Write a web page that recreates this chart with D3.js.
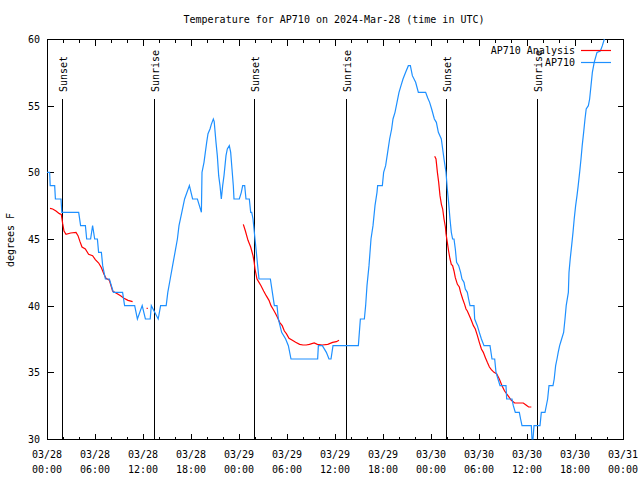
<!DOCTYPE html>
<html><head><meta charset="utf-8">
<script src="https://cdn.jsdelivr.net/npm/d3@7"></script>
<style>
body{margin:0;background:#fff;}
text{font-family:"DejaVu Sans Mono","Liberation Mono",monospace;font-size:10px;fill:#000;}
</style></head>
<body><svg id="c" width="640" height="480"></svg>
<script>
// ---- data (hours after 2024-03-28 00:00 UTC) ----
const obsHours = [0,0.33,0.4,0.96,1.05,1.75,1.85,3.96,4.2,4.8,4.96,5.45,5.7,5.96,6.3,6.45,6.8,6.96,7.3,7.8,8.3,9.45,9.7,10.96,11.3,11.9,12.3,12.9,13.04,13.9,14.2,14.9,15.1,15.4,15.7,16.0,16.3,16.5,16.85,17.2,17.8,18.2,18.8,19.3,19.375,19.625,19.79,19.96,20.125,20.375,20.54,20.79,20.9,21.125,21.29,21.46,21.625,21.79,21.96,22.125,22.375,22.54,22.79,22.96,23.125,23.29,23.375,24.04,24.29,24.46,24.71,24.875,25.29,25.46,25.59,25.75,26,26.17,26.33,26.5,27.92,28.17,28.42,28.75,28.92,29.33,29.83,30.17,30.5,33.83,33.92,34.42,34.92,35.25,35.5,35.75,38.92,39.17,39.67,39.83,40,40.25,40.5,40.75,41,41.25,41.33,41.92,42.08,42.33,42.58,42.83,43.08,43.25,43.5,43.75,44,44.25,44.5,44.83,45.17,45.42,45.67,46.08,46.42,47.33,47.58,47.83,48.08,48.42,48.67,48.92,49.29,49.625,49.875,50.04,50.2,50.375,50.54,50.7,50.875,51.04,51.2,51.46,51.7,51.875,52.125,52.29,52.54,52.7,52.875,53.375,53.46,53.79,54.04,54.3,54.625,55.375,55.625,55.96,56.125,56.375,56.625,57.375,57.46,58.125,58.29,58.54,59.04,59.2,59.375,60.54,60.625,60.75,60.875,61.625,61.79,62.25,62.58,62.75,63.25,63.4,63.58,63.75,63.9,64.08,64.33,64.58,64.75,64.9,65.17,65.25,65.4,65.58,65.75,65.9,66.08,66.25,66.4,66.58,66.75,66.9,67.08,67.25,67.4,67.67,67.83,68,68.17,68.4,68.75,69.17,69.42,69.67];
const obsTemps = [50,50,49,49,48,48,47,47,46,46,45,45,46,45,45,44,44,43,42,42,41,41,40,40,39,40,39,39,40,39,40,40,41,42,43,44,45,46,47,48,49,48,48,47,50,50.75,51.5,52.25,52.9,53.25,53.6,54,53.8,52.25,51.25,49.75,49,48,49,49.75,51.25,51.75,52,51.5,50.25,49,48,48,48.5,49,49,48,48,47,47,46.5,45,44,43,42,42,41,40,40,39,38,37.5,37,36,36,37,37,36.5,36,36,37,37,39,39,40,41.5,43,45,46,47.5,48.5,49,49,50,50.5,51.5,52.5,53.25,54,54.5,55.25,56,56.5,57,57.5,58,58,57.25,56.75,56,56,55.6,55.25,54.75,54,53.75,53,52.5,51,50,48.75,47.75,46.5,45.5,45,45,44.25,43.25,43,42.5,42,41.75,41.25,41,40.5,40,40,39,38.5,38,37.5,37,37,36,36,35,34.5,34,34,33,33,32.5,32,32,31.5,31,31,30,30,31,31,32,32,33,34,34,34.5,35.5,36,36.5,37,37.5,38,39,40,41,42.5,43.5,44.5,45.5,46.5,47.5,48.25,49,50,51,52,53,54,54.75,55,55.5,56.5,57.5,58.25,59,59.1,59.5,60];

// analysis (null = gap)
const anaHours = [0.375,0.71,1.125,1.54,1.79,1.96,2.125,2.375,2.96,3.625,3.875,4.125,4.375,4.79,5.2,5.7,6.04,6.46,6.8,7.125,7.375,7.8,8.2,8.625,9.2,9.625,10.125,10.7,11.5,12.45,12.6,13.5,24.54,24.8,25.125,25.46,25.75,25.9,26,26.25,26.5,26.75,27.08,27.4,27.75,28,28.25,28.58,28.83,29.08,29.4,29.67,29.92,30.25,30.67,31.08,31.58,32,32.4,32.8,33.4,33.8,34.4,35.1,35.7,36.17,36.5,42,48.46,48.625,48.8,48.96,49.125,49.3,49.46,49.625,49.8,49.875,50.04,50.2,50.375,50.54,50.7,50.875,51.04,51.3,51.54,51.7,51.96,52.2,52.375,52.54,52.8,53.04,53.3,53.54,53.8,54.04,54.3,54.54,54.8,55.04,55.3,55.54,55.875,56.2,56.54,56.875,57.2,57.625,58.04,58.46,59.04,59.54,59.875,60.2,60.54];
const anaTemps = [47.3,47.25,47.1,46.9,46.85,46.15,45.6,45.35,45.45,45.5,45.25,44.8,44.4,44.25,43.85,43.75,43.45,43.2,42.85,42.35,42.05,41.9,41.1,40.95,40.75,40.55,40.4,40.3,null,39.8,39.8,null,46.1,45.6,44.9,44.4,43.75,43.25,42.75,42,41.75,41.5,41.1,40.75,40.4,40,39.75,39.4,39.1,38.75,38.5,38.1,37.9,37.55,37.4,37.25,37.1,37.05,37.05,37.1,37.2,37.1,37.05,37.1,37.25,37.3,37.4,null,51.2,51,50,49.25,48.25,47.6,47.25,46.5,45.9,45.4,44.75,44.1,43.5,43.1,43,42.6,42.1,41.6,41.4,41,40.5,40.1,39.75,39.6,39.25,38.9,38.5,38.25,37.75,37.25,36.75,36.5,36.1,35.75,35.4,35.2,35,34.9,34.5,34,33.6,33.25,32.9,32.7,32.7,32.7,32.55,32.4,32.4];

const sunHours = [1.9,13.4,25.9,37.4,49.85,61.27];
const sunLabels = ["Sunset","Sunrise","Sunset","Sunrise","Sunset","Sunrise"];
const yTicks = [30,35,40,45,50,55,60];
const seriesNames = ["AP710 Analysis","AP710"];
const seriesColors = ["#ff0000","#1e90ff"];
const titleText = "Temperature for AP710 on 2024-Mar-28 (time in UTC)";
const yLabel = "degrees F";

// ---- chart ----
const base = Date.UTC(2024,2,28);
const H = 3600*1000;
const toDate = h => new Date(base + h*H);
const L = 47, R = 623, T = 39, B = 439;
const svg = d3.select("#c");
const x = d3.scaleUtc().domain([toDate(0), toDate(72)]).range([L, R]);
const y = d3.scaleLinear().domain([30, 60]).range([B, T]);
const px = v => Math.round(v) + 0.5;

// title
svg.append("text").attr("x", 334).attr("y", 23).attr("text-anchor","middle").text(titleText);
// y label
svg.append("text").attr("transform","translate(14,240) rotate(-90)").attr("text-anchor","middle").text(yLabel);

// x ticks
const major = x.ticks(d3.utcHour.every(6));
const minor = x.ticks(d3.utcHour.every(2));
const g = svg.append("g").attr("stroke","#000").attr("stroke-width",1).attr("shape-rendering","crispEdges");
minor.forEach(d => {
  const xx = px(x(d));
  const len = (d.getUTCHours() % 6 === 0) ? 6 : 3;
  g.append("line").attr("x1",xx).attr("x2",xx).attr("y1",B+0.5).attr("y2",B+0.5-len);
  g.append("line").attr("x1",xx).attr("x2",xx).attr("y1",T+0.5).attr("y2",T+0.5+len);
});
yTicks.forEach(v => {
  const yy = px(y(v));
  g.append("line").attr("x1",L+0.5).attr("x2",L+0.5+6).attr("y1",yy).attr("y2",yy);
  g.append("line").attr("x1",R+0.5).attr("x2",R+0.5-6).attr("y1",yy).attr("y2",yy);
  svg.append("text").attr("x",40).attr("y",y(v)+4).attr("text-anchor","end").text(v);
});
const fmtD = d3.utcFormat("%m/%d"), fmtT = d3.utcFormat("%H:%M");
major.forEach(d => {
  const t = svg.append("text").attr("text-anchor","middle");
  t.append("tspan").attr("x", x(d)).attr("y", 458).text(fmtD(d));
  t.append("tspan").attr("x", x(d)).attr("y", 473).text(fmtT(d));
});

// sun lines
sunHours.forEach((h,i) => {
  const xx = px(x(toDate(h)));
  g.append("line").attr("x1",xx).attr("x2",xx).attr("y1",99).attr("y2",B+0.5);
  svg.append("text").attr("transform",`translate(${xx+4},92) rotate(-90)`).text(sunLabels[i]);
});

// series
const obs = obsHours.map((h,i)=>({d:toDate(h), v:obsTemps[i]}));
const ana = anaHours.map((h,i)=>({d:toDate(h), v:anaTemps[i]}));
const line = d3.line().defined(p => p.v != null).x(p => x(p.d)).y(p => y(p.v));
svg.append("path").datum(ana).attr("d", line).attr("fill","none").attr("stroke",seriesColors[0]).attr("stroke-width",1.2);
svg.append("path").datum(obs).attr("d", line).attr("fill","none").attr("stroke",seriesColors[1]).attr("stroke-width",1.2);

// border
g.append("rect").attr("x",L+0.5).attr("y",T+0.5).attr("width",R-L).attr("height",B-T).attr("fill","none");

// legend
seriesNames.forEach((n,i) => {
  const ly = 50 + i*12;
  svg.append("text").attr("x",575).attr("y",ly+4).attr("text-anchor","end").text(n);
  svg.append("line").attr("x1",581).attr("x2",611).attr("y1",ly+0.5).attr("y2",ly+0.5)
     .attr("stroke",seriesColors[i]).attr("stroke-width",1.2);
});
</script></body></html>
